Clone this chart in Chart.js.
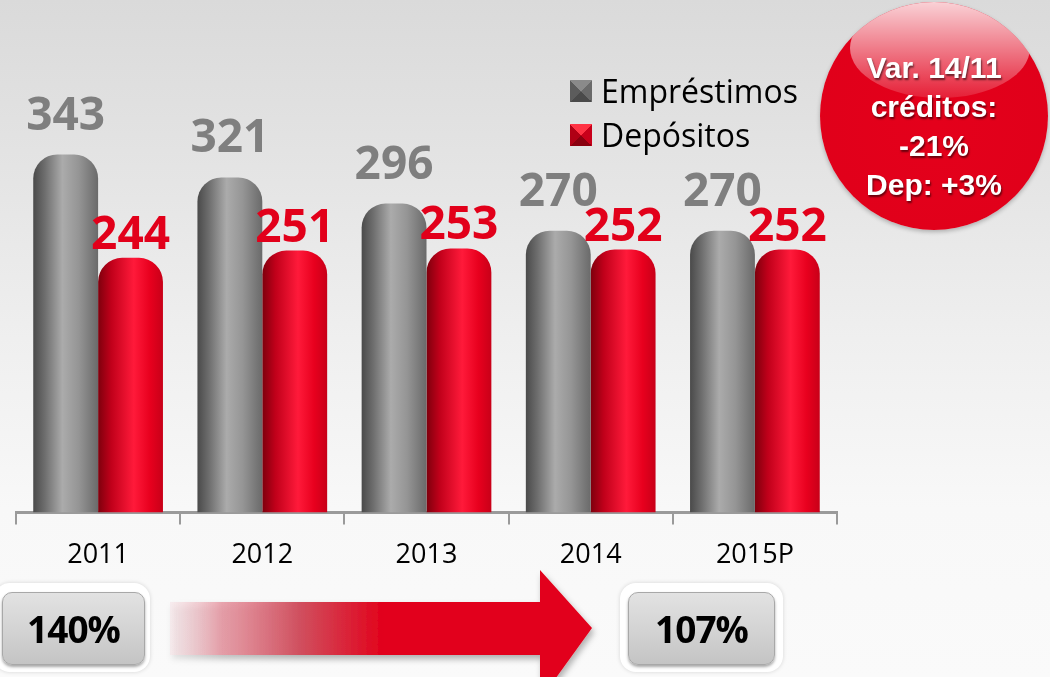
<!DOCTYPE html>
<html>
<head>
<meta charset="utf-8">
<script src="https://cdn.jsdelivr.net/npm/chart.js@4.4.1/dist/chart.umd.min.js"></script>
<style>
  html, body { margin:0; padding:0; }
  body {
    width:1050px; height:677px; overflow:hidden; position:relative;
    background: linear-gradient(to bottom, #dadada 0%, #e2e2e2 20%, #efefef 50%, #f8f8f8 75%, #fafafa 100%);
    font-family: "Open Sans", Lato, sans-serif;
  }
  #wrap { position:absolute; left:0; top:0; width:1050px; height:677px; }
  .legend { position:absolute; left:570px; top:69px; font-size:32px; color:#000; line-height:44px; }
  .legend div { display:flex; align-items:center; }
  .sw { width:22px; height:22px; margin-right:9px; display:inline-block; }
  .sw.g { background: conic-gradient(from -45deg, #8a8a8a 0 25%, #6a6a6a 25% 50%, #4a4a4a 50% 75%, #5c5c5c 75% 100%); }
  .sw.r { background: conic-gradient(from -45deg, #ff3344 0 25%, #c8001a 25% 50%, #8a000f 50% 75%, #b00015 75% 100%); }
  .bubble {
    position:absolute; left:820px; top:2px; width:228px; height:228px; border-radius:50%;
    background: radial-gradient(circle at 50% 55%, #e4001b 0%, #e0001a 80%, #cc0016 100%);
    box-shadow: 0 2px 4px rgba(0,0,0,0.25);
    overflow:hidden;
  }
  .hl {
    position:absolute; left:30px; top:-4px; width:180px; height:100px; border-radius:50%;
    background: linear-gradient(to bottom, rgba(255,255,255,0.85) 0%, rgba(255,255,255,0.45) 55%, rgba(255,255,255,0.12) 100%);
  }
  .btxt {
    position:absolute; left:0; top:46px; width:228px; text-align:center; color:#fff;
    font-family:"Liberation Sans", Arial, sans-serif; font-weight:bold; font-size:30px; line-height:39px;
    text-shadow: 1px 2px 2px rgba(0,0,0,0.55);
  }
  .box {
    position:absolute; border-radius:16px; background:#fff;
    box-shadow: 0 0 4px rgba(0,0,0,0.15);
  }
  .box .in {
    position:absolute; border-radius:10px;
    background: linear-gradient(to bottom, #e2e2e2 0%, #d4d4d4 50%, #c4c4c4 100%);
    border:1px solid #a8a8a8; box-shadow: 0 2px 3px rgba(0,0,0,0.35);
    display:flex; align-items:center; justify-content:center;
    font-weight:bold; font-size:37px; color:#000; letter-spacing:-1px;
  }
  svg { position:absolute; left:0; top:0; }
</style>
</head>
<body>
<div id="wrap"><canvas id="c" width="1050" height="677"></canvas></div>

<svg width="1050" height="677">
  <defs>
    <linearGradient id="ag" x1="170" y1="0" x2="600" y2="0" gradientUnits="userSpaceOnUse">
      <stop offset="0" stop-color="#f4d0d6" stop-opacity="0.3"/>
      <stop offset="0.12" stop-color="#e5909c" stop-opacity="0.8"/>
      <stop offset="0.3" stop-color="#d0505f"/>
      <stop offset="0.5" stop-color="#e2001a"/>
      <stop offset="1" stop-color="#e2001a"/>
    </linearGradient>
    <filter id="sh" x="-10%" y="-20%" width="130%" height="150%">
      <feDropShadow dx="2" dy="4" stdDeviation="3" flood-color="#000" flood-opacity="0.3"/>
    </filter>
  </defs>
  <path d="M170,602 L540,602 L540,570 L592,628 L540,700 L540,655 L170,655 Z" fill="url(#ag)" filter="url(#sh)"/>
</svg>

<div class="legend">
  <div><span class="sw g"></span><span id="l0"></span></div>
  <div><span class="sw r"></span><span id="l1"></span></div>
</div>

<div class="bubble"><div class="hl"></div>
  <div class="btxt">Var. 14/11<br>créditos:<br>-21%<br>Dep: +3%</div>
</div>

<div class="box" style="left:-6px; top:583px; width:156px; height:89px;">
  <div class="in" style="left:8px; top:9px; width:141px; height:71px;" id="b0"></div>
</div>
<div class="box" style="left:620px; top:583px; width:163px; height:89px;">
  <div class="in" style="left:8px; top:9px; width:145px; height:71px;" id="b1"></div>
</div>

<script>
const CATEGORIES = ["2011", "2012", "2013", "2014", "2015P"];
const SERIES_NAMES = ["Empréstimos", "Depósitos"];
const EMPRESTIMOS = [343, 321, 296, 270, 270];
const DEPOSITOS = [244, 251, 253, 252, 252];
const RATIO_LABELS = ["140%", "107%"];

document.getElementById('l0').textContent = SERIES_NAMES[0];
document.getElementById('l1').textContent = SERIES_NAMES[1];
document.getElementById('b0').textContent = RATIO_LABELS[0];
document.getElementById('b1').textContent = RATIO_LABELS[1];

const CAT_PCT = 0.79;
const GRAY_STOPS = [[0, '#4a4a4a'], [0.18, '#6e6e6e'], [0.45, '#ababab'], [0.7, '#959595'], [1, '#6a6a6a']];
const RED_STOPS = [[0, '#7e000d'], [0.2, '#c0001a'], [0.55, '#ff1a3a'], [0.8, '#e8001e'], [1, '#c80018']];

function barFill(ctx) {
  const chart = ctx.chart;
  const di = ctx.datasetIndex;
  const stops = di === 0 ? GRAY_STOPS : RED_STOPS;
  const xs = chart.scales.x;
  if (!chart.chartArea || !xs || ctx.dataIndex === undefined) return stops[2][1];
  const center = xs.getPixelForValue(ctx.dataIndex);
  const catW = (xs.right - xs.left) / CATEGORIES.length;
  const w = catW * CAT_PCT / 2;
  const x0 = di === 0 ? center - w : center;
  const g = chart.ctx.createLinearGradient(x0, 0, x0 + w, 0);
  stops.forEach(s => g.addColorStop(s[0], s[1]));
  return g;
}

const valueLabels = {
  id: 'valueLabels',
  afterDatasetsDraw(chart) {
    const c = chart.ctx;
    c.save();
    c.font = 'bold 46px "Open Sans", Lato, sans-serif';
    c.textAlign = 'center';
    c.textBaseline = 'alphabetic';
    chart.data.datasets.forEach((ds, di) => {
      const meta = chart.getDatasetMeta(di);
      c.fillStyle = di === 0 ? '#7f7f7f' : '#e2001a';
      meta.data.forEach((el, i) => {
        const off = di === 0 ? 25 : 9;
        c.fillText(String(ds.data[i]), el.x, el.y - off);
      });
    });
    c.restore();
  }
};

new Chart(document.getElementById('c'), {
  type: 'bar',
  data: {
    labels: CATEGORIES,
    datasets: [
      { label: SERIES_NAMES[0], data: EMPRESTIMOS, backgroundColor: barFill,
        borderRadius: { topLeft: 24, topRight: 24, bottomLeft: 0, bottomRight: 0 }, borderSkipped: 'bottom' },
      { label: SERIES_NAMES[1], data: DEPOSITOS, backgroundColor: barFill,
        borderRadius: { topLeft: 24, topRight: 24, bottomLeft: 0, bottomRight: 0 }, borderSkipped: 'bottom' }
    ]
  },
  options: {
    responsive: false,
    animation: false,
    categoryPercentage: CAT_PCT,
    barPercentage: 1,
    layout: { padding: { left: 16, right: 213, top: 95, bottom: 90 } },
    plugins: { legend: { display: false }, tooltip: { enabled: false } },
    scales: {
      y: { display: false, min: 0, max: 400 },
      x: {
        grid: { offset: true, drawOnChartArea: false, drawTicks: true, tickLength: 12, color: '#9a9a9a', lineWidth: 2 },
        border: { display: true, color: '#9a9a9a', width: 3 },
        ticks: { color: '#000', font: { family: '"Open Sans", Lato, sans-serif', size: 27 }, padding: 15, maxRotation: 0, autoSkip: false }
      }
    }
  },
  plugins: [valueLabels]
});
</script>
</body>
</html>
